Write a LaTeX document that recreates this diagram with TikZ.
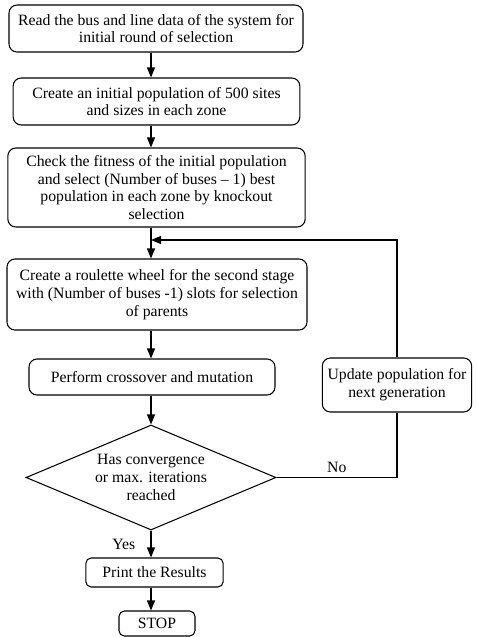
\documentclass[tikz,border=0pt]{standalone}
\usepackage{fontspec}
\setmainfont{Liberation Serif}
\usetikzlibrary{shapes.geometric,arrows.meta}
\tikzset{%
  box/.style={draw, rounded corners=6pt, align=center, inner sep=1pt, line width=0.8pt,
    font=\fontsize{11.8}{13.3}\selectfont},
  decision/.style={draw, diamond, aspect=2.38, inner sep=0pt, line width=0.8pt, align=center,
    font=\fontsize{11.8}{13.3}\selectfont},
  flow/.style={-{Triangle[length=7.5pt,width=6pt]}, line width=0.8pt},
  line/.style={line width=0.8pt}
}

\begin{document}
\begin{tikzpicture}[x=0.75pt,y=-0.75pt]
    % \draw[help lines] (0,0) grid[step=20] (476,637);
    \useasboundingbox (0,0) rectangle (476,637);

      \node[box, minimum width=220.5pt, minimum height=35.25pt] (read) at (156,28.5)
        {Read the bus and line data of the system for\\initial round of selection};
      \node[box, minimum width=215pt, minimum height=35.25pt] (init) at (156.5,101.5)
        {Create an initial population of 500 sites\\and sizes in each zone};
      \node[box, minimum width=223pt, minimum height=59.25pt] (fit) at (156.5,187.5)
        {Check the fitness of the initial population\\and select (Number of buses -- 1) best\\population in each zone by knockout\\selection};
      \node[box, minimum width=225pt, minimum height=53.25pt] (wheel) at (157,294.5)
        {Create a roulette wheel for the second stage\\with (Number of buses -1) slots for selection\\of parents};
      \node[box, minimum width=184.5pt, minimum height=27pt] (cross) at (152,377)
        {Perform crossover and mutation};
      \node[box, minimum width=112pt, minimum height=40.5pt] (update) at (397,385)
        {Update population for\\next generation};
      \node[decision, minimum width=187.5pt, minimum height=78.75pt] (dec) at (151,477.5)
        {Has convergence\\or max. iterations\\reached};
      \node[box, rounded corners=4pt, minimum width=103pt, minimum height=21.75pt] (print) at (154.5,572.5)
        {Print the Results};
      \node[box, rounded corners=4pt, minimum width=57pt, minimum height=18.75pt] (stop) at (157,623.5)
        {STOP};

      \coordinate (spine) at (151,0);
      \coordinate (merge) at (151,240);

      \draw[flow] (spine |- read.south) -- (spine |- init.north);
      \draw[flow] (spine |- init.south) -- (spine |- fit.north);
      \draw[flow] (spine |- fit.south) -- (spine |- wheel.north);
      \draw[flow] (spine |- wheel.south) -- (spine |- cross.north);
      \draw[flow] (spine |- cross.south) -- (spine |- dec.north);
      \draw[flow] (dec.south) -- node[left, font=\fontsize{11.8}{13.3}\selectfont, xshift=-8pt]{Yes} (dec.south |- print.north);
      \draw[flow] (dec.south |- print.south) -- (dec.south |- stop.north);

      \draw[line] (dec.east) -- node[above, font=\fontsize{11.8}{13.3}\selectfont]{No} (dec.east -| update.south) -- (update.south);
      \draw[flow] (update.north) |- (merge);

  \end{tikzpicture}
\end{document}
